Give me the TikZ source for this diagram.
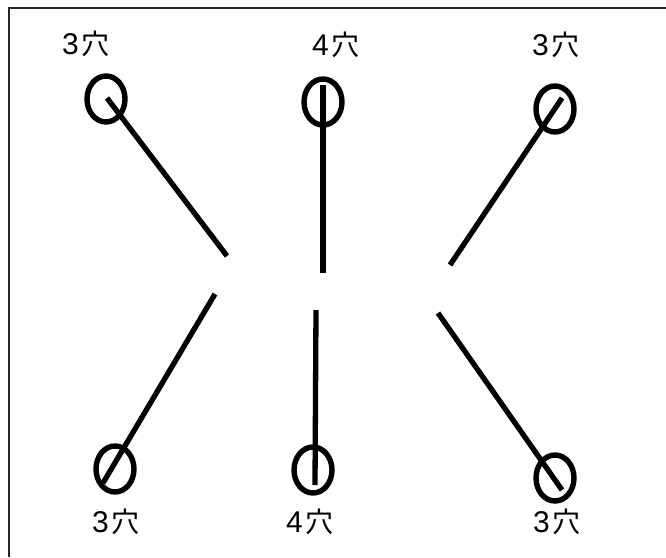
\documentclass[tikz,border=0pt]{standalone}
\usepackage{fontspec}
\setmainfont{Noto Sans CJK JP}
\newfontfamily\digitfont{Liberation Sans}
\usetikzlibrary{shapes.geometric}
\tikzset{
  hole/.style={draw, ellipse, line width=5.4pt, inner sep=0pt, minimum width=38pt, minimum height=46pt},
  spoke/.style={line width=5.3pt},
  lbl/.style={font=\fontsize{28}{28}\selectfont, inner sep=0pt},
  frame/.style={line width=1.5pt, draw=black!85}
}
\newcommand{\holelabel}[1]{{\digitfont\fontsize{30}{30}\selectfont #1}\hspace{3pt}穴}
\begin{document}
\begin{tikzpicture}[x=1pt,y=-1pt]
\useasboundingbox (0,0) rectangle (666,557);
% frame (top and left sides visible)
\coordinate (f1) at (666,8);
\coordinate (f2) at (9,8);
\coordinate (f3) at (9,557);
\draw[frame] (f1) -- (f2) -- (f3);
% holes
\node[hole] (h1) at (106,99) {};
\node[hole] (h2) at (323,102) {};
\node[hole] (h3) at (555,109) {};
\node[hole] (h4) at (115,469) {};
\node[hole] (h5) at (313,470) {};
\node[hole] (h6) at (555,478) {};
% spoke ends
\coordinate (s1) at (107,98);  \coordinate (c1) at (227,256);
\coordinate (s2) at (323,85);  \coordinate (c2) at (323,273);
\coordinate (s3) at (562,98);  \coordinate (c3) at (450,265);
\coordinate (s4) at (103,483); \coordinate (c4) at (215,294);
\coordinate (s5) at (315,485); \coordinate (c5) at (316,310);
\coordinate (s6) at (562,490); \coordinate (c6) at (438,313);
\draw[spoke] (s1) -- (c1);
\draw[spoke] (s2) -- (c2);
\draw[spoke] (s3) -- (c3);
\draw[spoke] (s4) -- (c4);
\draw[spoke] (s5) -- (c5);
\draw[spoke] (s6) -- (c6);
% labels
\node[lbl] (l1) at (86,44) {\holelabel{3}};
\node[lbl] (l2) at (336,45) {\holelabel{4}};
\node[lbl] (l3) at (556,45) {\holelabel{3}};
\node[lbl] (l4) at (116,522) {\holelabel{3}};
\node[lbl] (l5) at (310,522) {\holelabel{4}};
\node[lbl] (l6) at (557,522) {\holelabel{3}};
\end{tikzpicture}
\end{document}
